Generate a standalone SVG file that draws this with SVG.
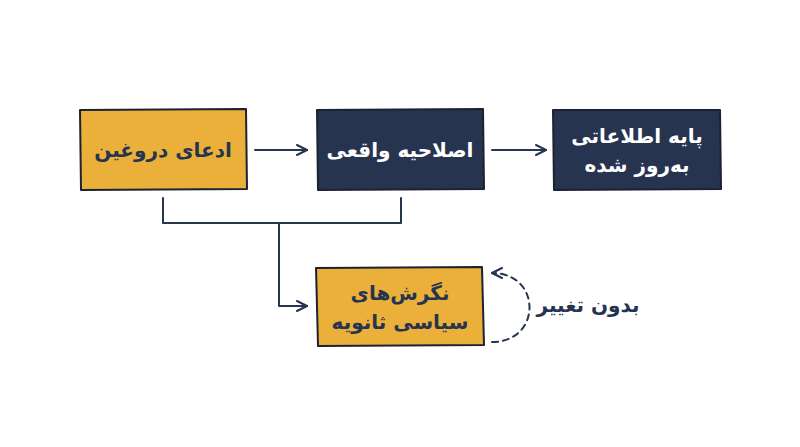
<svg xmlns="http://www.w3.org/2000/svg" width="800" height="447" viewBox="0 0 800 447">
<defs>
<style>
.box{stroke:#1c2233;stroke-width:2;stroke-linejoin:round}
.y{fill:#ebb03a}
.n{fill:#263450}
.t{font-family:"DejaVu Sans","Noto Sans",sans-serif;font-weight:bold;font-size:20px;text-anchor:middle;direction:rtl}
.td{fill:#263450}
.tw{fill:#ffffff}
.c{fill:none;stroke:#263450;stroke-width:2;stroke-linecap:round;stroke-linejoin:round}
</style>
<marker id="ah" viewBox="0 0 12 12" refX="11" refY="6" markerWidth="12" markerHeight="12" markerUnits="userSpaceOnUse" orient="auto">
<path d="M1 1 L11 6 L1 11" fill="none" stroke="#263450" stroke-width="2" stroke-linecap="round" stroke-linejoin="round"/>
</marker>
</defs>
<rect width="800" height="447" fill="#ffffff"/>
<g id="connectors">
<path class="c" d="M255 150 H307" marker-end="url(#ah)"/>
<path class="c" d="M492 150 H546" marker-end="url(#ah)"/>
<path class="c" d="M163 198 V223 H401 V198"/>
<path class="c" d="M279 223 V306 H307" marker-end="url(#ah)"/>
<path class="c" d="M492 342 C542 342 542 273 492 273" stroke-dasharray="6 5" marker-end="url(#ah)"/>
<text class="t td" x="588" y="312">بدون تغییر</text>
</g>
<g id="node1">
<path class="box y" d="M80 110 L246 109 L247 189 L81 190 Z"/>
<text class="t td" x="163" y="157">ادعای دروغین</text>
</g>
<g id="node2">
<path class="box n" d="M317 110 L483 109 L484 189 L318 190 Z"/>
<text class="t tw" x="400" y="157">اصلاحیه واقعی</text>
</g>
<g id="node3">
<path class="box n" d="M553 110 L720 110 L721 189 L554 190 Z"/>
<text class="t tw" x="637" y="143">پایه اطلاعاتی</text>
<text class="t tw" x="637" y="172">به‌روز شده</text>
</g>
<g id="node4">
<path class="box y" d="M316 268 L482 267 L484 345 L318 346 Z"/>
<text class="t td" x="400" y="300">نگرش‌های</text>
<text class="t td" x="400" y="329">سیاسی ثانویه</text>
</g>
</svg>
